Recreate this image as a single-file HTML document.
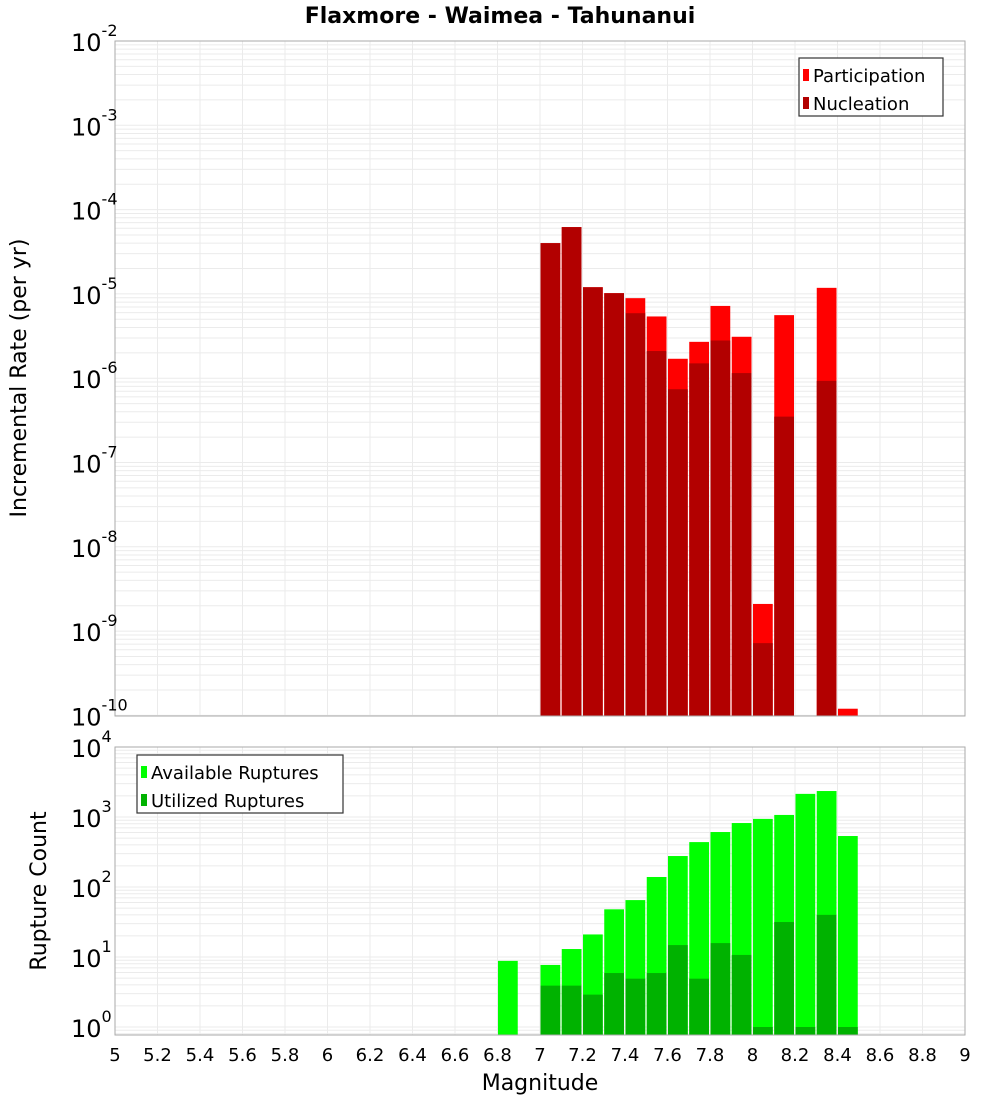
<!DOCTYPE html>
<html><head><meta charset="utf-8"><style>
body{margin:0;background:#fff;}
svg text{font-family:"DejaVu Sans","Liberation Sans",sans-serif;fill:#000;}
</style></head><body>
<svg id="chart" width="1000" height="1100" xmlns="http://www.w3.org/2000/svg"></svg>
<script>
const mags=[6.8,7.0,7.1,7.2,7.3,7.4,7.5,7.6,7.7,7.8,7.9,8.0,8.1,8.2,8.3,8.4];
const participation=[null,4.0e-5,6.2e-5,1.2e-5,1.02e-5,8.9e-6,5.4e-6,1.7e-6,2.7e-6,7.2e-6,3.1e-6,2.1e-9,5.6e-6,null,1.18e-5,1.2e-10];
const nucleation=[null,4.0e-5,6.2e-5,1.2e-5,1.02e-5,5.9e-6,2.1e-6,7.4e-7,1.5e-6,2.8e-6,1.15e-6,7.2e-10,3.5e-7,null,9.3e-7,null];
const available=[8.8,7.7,13,21,48,65,139,277,438,610,820,940,1070,2140,2350,535];
const utilized=[null,3.9,3.9,2.9,5.9,4.9,5.9,14.8,4.9,15.8,10.7,1,31.6,1,40,1];
const xTicks=[5,5.2,5.4,5.6,5.8,6,6.2,6.4,6.6,6.8,7,7.2,7.4,7.6,7.8,8,8.2,8.4,8.6,8.8,9];
const topExps=[-2,-3,-4,-5,-6,-7,-8,-9,-10];
const botExps=[4,3,2,1,0];

const svg=document.getElementById('chart');
const NS='http://www.w3.org/2000/svg';
function mk(tag,attrs,parent){const e=document.createElementNS(NS,tag);for(const k in attrs)e.setAttribute(k,attrs[k]);(parent||svg).appendChild(e);return e;}
const L=115,R=965;
const xs=m=>L+(m-5)/4*(R-L);
const T1=41,B1=716,yTop=v=>T1+(-2-Math.log10(v))*84.3;
const T2=747,B2=1035,yBot=v=>1027-70*Math.log10(v);

function panel(name,top,bot,yf,expLo,expHi){
  const g=mk('g',{});
  
  
  mk('rect',{x:L,y:top,width:R-L,height:bot-top,fill:'#fff'},g);
  for(let e=expLo;e<expHi;e++){for(let k=1;k<10;k++){const y=yf(k*Math.pow(10,e));if(y>=top&&y<=bot)mk('line',{x1:L,x2:R,y1:y,y2:y,stroke:'#ebebeb','stroke-width':1},g);}}
  xTicks.forEach(t=>{const x=xs(t);mk('line',{x1:x,x2:x,y1:top,y2:bot,stroke:'#ebebeb','stroke-width':1},g);});
  return g;
}
const g1=panel('rate',T1,B1,yTop,-10,-1);
const g2=panel('count',T2,B2,yBot,-1,4);
const bw=(xs(5.1)-xs(5))-1.5;
function bars(arr,yf,bot,color,name,g){
  arr.forEach((v,i)=>{if(v==null)return;const x=xs(mags[i])+0.5;const y=Math.max(yf(v),0);
    const r=mk('rect',{x:x,y:y,width:bw,height:Math.max(bot-y,0),fill:color},g);
    
    });
}
bars(participation,yTop,B1,'#ff0000','participation',g1);
bars(nucleation,yTop,B1,'#b20000','nucleation',g1);
bars(available,yBot,B2,'#00ff00','available',g2);
bars(utilized,yBot,B2,'#00b200','utilized',g2);
mk('rect',{x:L,y:T1,width:R-L,height:B1-T1,fill:'none',stroke:'#aaa'});
mk('rect',{x:L,y:T2,width:R-L,height:B2-T2,fill:'none',stroke:'#aaa'});

function yLabels(exps,yf,name){
  exps.forEach(e=>{const y=yf(Math.pow(10,e));
    const t=mk('text',{x:71,y:y+10,'font-size':24});
    
    
    t.textContent='10';
    const s=mk('tspan',{dy:-15,'font-size':16});s.textContent=String(e);t.appendChild(s);});
}
yLabels(topExps,yTop,'rate-y');
yLabels(botExps,yBot,'count-y');
xTicks.forEach(t=>{const e=mk('text',{x:xs(t),y:1061,'font-size':18,'text-anchor':'middle'});
  
  
  e.textContent=String(t);});

function txt(s,attrs,name){const e=mk('text',attrs);e.textContent=s;return e;}
txt('Flaxmore - Waimea - Tahunanui',{x:500,y:23,'font-size':22,'font-weight':'bold','text-anchor':'middle'},'chart-title');
txt('Magnitude',{x:540,y:1090,'font-size':22,'text-anchor':'middle'},'x-axis-title');
txt('Incremental Rate (per yr)',{x:26,y:378,'font-size':22,'text-anchor':'middle',transform:'rotate(-90 26 378)'},'rate-y-axis-title');
txt('Rupture Count',{x:46,y:891,'font-size':22,'text-anchor':'middle',transform:'rotate(-90 46 891)'},'count-y-axis-title');

function legend(x,y,w,items,name){
  const g=mk('g',{});
  mk('rect',{x:x,y:y,width:w,height:58,fill:'#fff',stroke:'#333','stroke-width':1.2},g);
  items.forEach((it,i)=>{const cy=y+18+i*28;
    mk('rect',{x:x+4,y:cy-7,width:6,height:12,fill:it[1]},g);
    const t=mk('text',{x:x+14,y:cy+6,'font-size':18},g);t.textContent=it[0];
    });
}
legend(799,58,144,[['Participation','#ff0000'],['Nucleation','#b20000']],'rate-legend');
legend(137,755,206,[['Available Ruptures','#00ff00'],['Utilized Ruptures','#00b200']],'count-legend');
</script>
</body></html>
